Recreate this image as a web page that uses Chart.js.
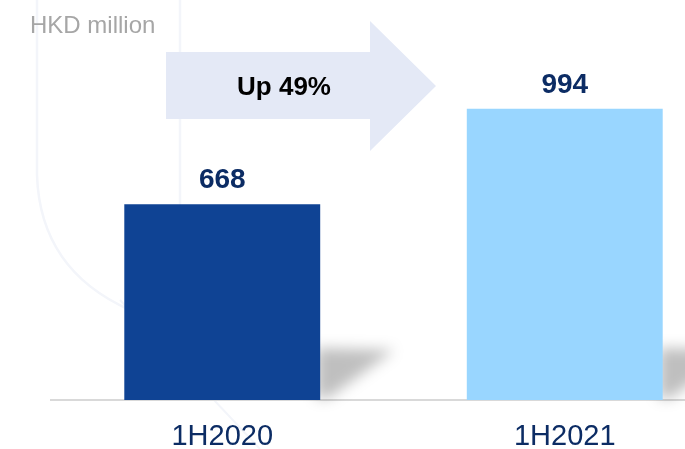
<!DOCTYPE html>
<html>
<head>
<meta charset="utf-8">
<script src="https://cdn.jsdelivr.net/npm/chart.js@4/dist/chart.umd.min.js"></script>
<style>
  html, body { margin: 0; padding: 0; overflow: hidden; background: #fff; }
  #wrap { position: relative; width: 736px; height: 449px; }
</style>
</head>
<body>
<div id="wrap"><canvas id="profitChart"></canvas></div>
<script>
const periods = ['1H2020', '1H2021'];
const profit = [668, 994];
const barColors = ['#0f4394', '#99d6ff'];
const unitLabel = 'HKD million';

const FONT = "'Liberation Sans', Arial, sans-serif";
const NAVY = '#0c2c64';

// faint background artwork, growth arrow and unit label
const backdrop = {
  id: 'backdrop',
  beforeDraw(chart) {
    const ctx = chart.ctx;
    ctx.save();
    ctx.strokeStyle = '#f3f5fa';
    ctx.lineWidth = 2.5;
    ctx.beginPath();
    ctx.moveTo(37, 0);
    ctx.lineTo(37, 175);
    ctx.quadraticCurveTo(40, 270, 130, 310);
    ctx.stroke();
    ctx.beginPath();
    ctx.moveTo(180, 0);
    ctx.lineTo(180, 210);
    ctx.stroke();
    ctx.lineWidth = 2;
    ctx.beginPath();
    ctx.moveTo(120, 300);
    ctx.lineTo(260, 449);
    ctx.stroke();

    // growth arrow
    ctx.fillStyle = '#e4e9f6';
    ctx.beginPath();
    ctx.moveTo(166, 52);
    ctx.lineTo(370, 52);
    ctx.lineTo(370, 21);
    ctx.lineTo(436, 86);
    ctx.lineTo(370, 151);
    ctx.lineTo(370, 119);
    ctx.lineTo(166, 119);
    ctx.closePath();
    ctx.fill();

    const pct = Math.round((profit[1] / profit[0] - 1) * 100);
    ctx.fillStyle = '#000';
    ctx.font = 'bold 26px ' + FONT;
    ctx.textAlign = 'center';
    ctx.textBaseline = 'middle';
    ctx.fillText('Up ' + pct + '%', 284, 88);

    ctx.fillStyle = '#a6a6a6';
    ctx.font = '24px ' + FONT;
    ctx.textAlign = 'left';
    ctx.textBaseline = 'alphabetic';
    ctx.fillText(unitLabel, 30, 33);
    ctx.restore();
  }
};

// soft cast shadow to the right of each bar, then the value above it
const barDecor = {
  id: 'barDecor',
  beforeDatasetsDraw(chart) {
    const ctx = chart.ctx;
    const meta = chart.getDatasetMeta(0);
    ctx.save();
    ctx.filter = 'blur(7px)';
    ctx.fillStyle = 'rgba(0,0,0,0.25)';
    meta.data.forEach(bar => {
      const right = bar.x + bar.width / 2;
      const bottom = bar.base;
      ctx.beginPath();
      ctx.moveTo(right - 4, bottom - 52);
      ctx.lineTo(right + 74, bottom - 50);
      ctx.lineTo(right + 8, bottom - 2);
      ctx.lineTo(right - 4, bottom - 2);
      ctx.closePath();
      ctx.fill();
    });
    ctx.restore();
  },
  afterDatasetsDraw(chart) {
    const ctx = chart.ctx;
    const meta = chart.getDatasetMeta(0);
    ctx.save();
    ctx.fillStyle = NAVY;
    ctx.font = 'bold 28px ' + FONT;
    ctx.textAlign = 'center';
    ctx.textBaseline = 'alphabetic';
    meta.data.forEach((bar, i) => {
      ctx.fillText(String(profit[i]), bar.x, bar.y - 16);
    });
    ctx.restore();
  }
};

new Chart(document.getElementById('profitChart'), {
  type: 'bar',
  data: {
    labels: periods,
    datasets: [{
      data: profit,
      backgroundColor: barColors,
      borderWidth: 0,
      barPercentage: 0.572,
      categoryPercentage: 1
    }]
  },
  options: {
    responsive: true,
    maintainAspectRatio: false,
    animation: false,
    layout: { padding: { left: 51, right: 0, top: 0, bottom: 0 } },
    plugins: { legend: { display: false }, tooltip: { enabled: false } },
    scales: {
      x: {
        grid: { display: false, drawTicks: false },
        border: { display: true, color: '#d9d9d9', width: 2 },
        ticks: { color: NAVY, font: { family: FONT, size: 29 }, padding: 20 },
        afterFit: scale => { scale.height = 49; }
      },
      y: { display: false, min: 0, max: 1365 }
    }
  },
  plugins: [backdrop, barDecor]
});
</script>
</body>
</html>
